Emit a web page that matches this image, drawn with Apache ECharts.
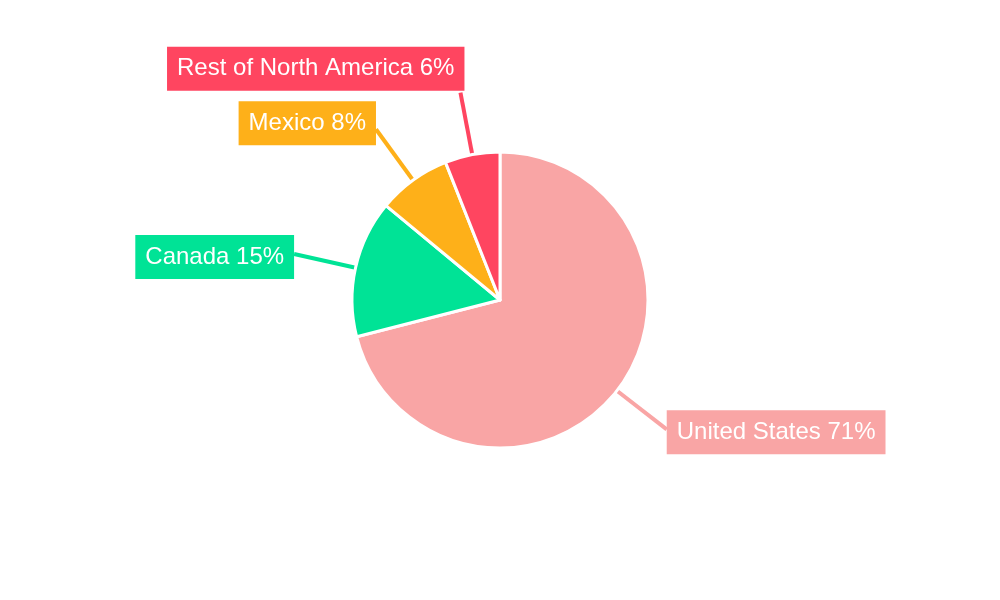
<!DOCTYPE html>
<html><head><meta charset="utf-8">
<script src="https://cdn.jsdelivr.net/npm/echarts@6/dist/echarts.min.js"></script>
<style>html,body{margin:0;padding:0;background:#fff}#c{width:1000px;height:600px}</style>
</head><body><div id="c"></div>
<script>
const categories = ['United States', 'Canada', 'Mexico', 'Rest of North America'];
const values = [71, 15, 8, 6];
const colors = ['#F9A5A5', '#00E396', '#FEB019', '#FF4560'];
const chart = echarts.init(document.getElementById('c'));
chart.setOption({
  animation: false,
  series: [{
    type: 'pie',
    center: [500, 300],
    radius: 148,
    startAngle: 90,
    clockwise: true,
    avoidLabelOverlap: false,
    data: categories.map((c, i) => ({name: c, value: values[i], itemStyle: {color: colors[i]}, label: {backgroundColor: colors[i]}})),
    itemStyle: {borderColor: '#fff', borderWidth: 3},
    label: {
      formatter: '{b} {d}%',
      color: '#fff',
      fontFamily: 'Liberation Sans, Arial, sans-serif',
      fontSize: 24,
      padding: [10, 10]
    },
    labelLine: {length: 63, length2: 0, lineStyle: {width: 4}},
    labelLayout: function (p) {
      const pts = p.labelLinePoints;
      if (!pts) return {};
      const s = pts[0], e = pts[pts.length - 1];
      const vx = e[0] - s[0], vy = e[1] - s[1];
      const L = Math.hypot(vx, vy) || 1;
      const up = -vy / L;
      const r = p.labelRect;
      const cy = r.y + r.height / 2;
      let dx, dy;
      if (up > 0.9) {
        dx = (e[0] + 4) - (r.x + r.width);
        dy = (e[1] - 2) - (r.y + r.height);
      } else {
        dx = vx < 0 ? e[0] - (r.x + r.width) : e[0] - r.x;
        dy = up > 0.5 ? (e[1] - 6) - cy : (e[1] + 3) - cy;
      }
      return {dx: dx, dy: dy};
    }
  }]
});
</script></body></html>
